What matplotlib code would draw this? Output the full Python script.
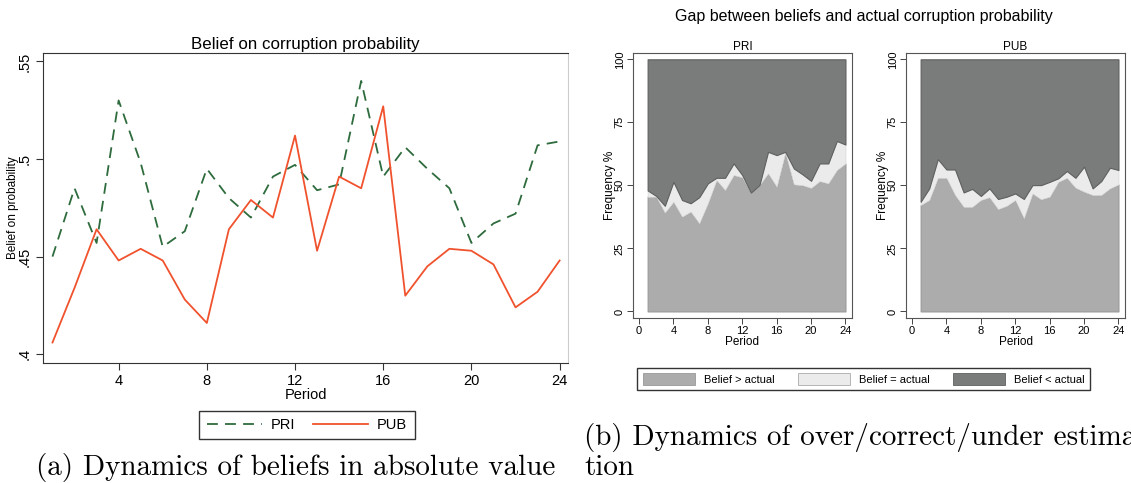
import numpy as np
import matplotlib
matplotlib.use("Agg")
import matplotlib.pyplot as plt
from matplotlib.patches import Patch

plt.rcParams['font.family'] = ['Liberation Sans', 'DejaVu Sans']

periods = list(range(1, 25))

# (a) mean belief on corruption probability
belief_pri = [0.450, 0.485, 0.457, 0.530, 0.498, 0.455, 0.463, 0.495, 0.480, 0.470, 0.491, 0.497,
              0.484, 0.487, 0.540, 0.491, 0.506, 0.495, 0.485, 0.457, 0.467, 0.472, 0.507, 0.509]
belief_pub = [0.406, 0.434, 0.464, 0.448, 0.454, 0.448, 0.428, 0.416, 0.464, 0.479, 0.470, 0.512,
              0.453, 0.491, 0.485, 0.527, 0.430, 0.445, 0.454, 0.453, 0.446, 0.424, 0.432, 0.448]

# (b) frequency % of over / correct estimation (rest = under)
pri_over = [45.5, 45.5, 39.2, 43.5, 37.6, 39.6, 35.0, 42.9, 52.1, 48.2, 54.1, 53.2,
            47.1, 50.1, 54.8, 49.5, 63.0, 50.4, 50.1, 49.0, 51.7, 50.8, 56.1, 58.7]
pri_equal = [2.5, 0.3, 2.7, 7.9, 6.6, 3.3, 10.3, 7.9, 0.9, 4.8, 4.6, 0.9,
             0.0, 0.0, 8.5, 12.5, 0.3, 6.3, 4.3, 2.8, 7.0, 7.9, 11.5, 7.5]
pub_over = [42.2, 44.2, 53.0, 53.0, 46.2, 41.5, 41.5, 44.2, 45.3, 40.6, 41.9, 44.2,
            37.0, 46.8, 44.5, 45.5, 51.4, 53.0, 49.1, 47.5, 46.2, 46.2, 48.8, 50.4]
pub_equal = [1.3, 4.6, 7.4, 3.3, 10.1, 5.7, 7.1, 1.6, 3.5, 4.0, 3.6, 2.6,
             7.6, 3.3, 5.6, 5.9, 1.4, 2.7, 3.9, 9.9, 2.6, 5.5, 8.2, 5.7]

W, H = 1131, 483
fig = plt.figure(figsize=(W / 100, H / 100), dpi=100)

def box(l, t, r, b):
    return [l / W, 1 - b / H, (r - l) / W, (b - t) / H]

green = '#2e6b3d'
red = '#f0522d'

# ---------- panel (a)
ax = fig.add_axes(box(43, 53, 568, 363))
ax.plot(periods, belief_pri, color=green, ls=(0, (6, 4)), lw=1.3, label='PRI')
ax.plot(periods, belief_pub, color=red, lw=1.3, label='PUB')
ax.set_xlim(0.57, 24.38)
ax.set_ylim(0.3955, 0.5543)
ax.set_xticks([4, 8, 12, 16, 20, 24])
ax.set_yticks([0.4, 0.45, 0.5, 0.55])
ax.set_yticklabels(['.4', '.45', '.5', '.55'], rotation=90, va='center')
ax.tick_params(labelsize=10.5, length=5, width=0.8, color='#333333', pad=3)
for s in ['left', 'bottom', 'top']:
    ax.spines[s].set_color('#333333')
ax.spines['right'].set_color('#cccccc')
ax.set_title('Belief on corruption probability', fontsize=12.2, pad=3)
ax.set_xlabel('Period', fontsize=10.5, labelpad=0)
ax.set_ylabel('Belief on probability', fontsize=8.5, labelpad=-1)

fig.legend(handles=ax.get_lines(), loc='center', ncol=2,
           bbox_to_anchor=(307 / W, 1 - 425 / H), fontsize=10.5,
           handlelength=3.8, columnspacing=1.2, handletextpad=0.6,
           fancybox=False, edgecolor='#333333', framealpha=1, borderpad=0.5)

# ---------- panel (b)
c_over, c_equal, c_under = '#acacac', '#ebebeb', '#7a7c7b'

def area_panel(rect, over, equal, title):
    a = fig.add_axes(rect)
    over = np.array(over)
    top = over + np.array(equal)
    a.fill_between(periods, 0, over, color=c_over, ec='#9a9a9a', lw=0.8)
    a.fill_between(periods, over, top, color=c_equal, ec='#d8d8d8', lw=0.5)
    a.fill_between(periods, top, 100, color=c_under, ec='#5e605f', lw=0.8)
    a.set_xlim(-0.7, 24.76)
    a.set_ylim(-2.6, 102.5)
    a.set_xticks(range(0, 25, 4))
    a.set_yticks([0, 25, 50, 75, 100])
    a.set_yticklabels(['0', '25', '50', '75', '100'], rotation=90, va='center')
    a.tick_params(labelsize=8, length=4, width=0.7, color='#444444', pad=2)
    for s in a.spines.values():
        s.set_color('#555555')
        s.set_linewidth(0.8)
    a.set_title(title, fontsize=8.5, pad=1)
    a.set_xlabel('Period', fontsize=8.5, labelpad=0)
    a.set_ylabel('Frequency %', fontsize=8.5, labelpad=-1)
    return a

area_panel(box(633, 53, 852, 318), pri_over, pri_equal, 'PRI')
area_panel(box(906, 53, 1125, 318), pub_over, pub_equal, 'PUB')

fig.text(864 / W, 1 - 16 / H, 'Gap between beliefs and actual corruption probability',
         ha='center', va='center', fontsize=11.5)

patches = [Patch(fc=c_over, ec='#999999', lw=0.6, label='Belief > actual'),
           Patch(fc=c_equal, ec='#aaaaaa', lw=0.6, label='Belief = actual'),
           Patch(fc=c_under, ec='#5e605f', lw=0.6, label='Belief < actual')]
fig.legend(handles=patches, loc='center', ncol=3,
           bbox_to_anchor=(863.5 / W, 1 - 379 / H), fontsize=8,
           handlelength=4.7, handleheight=1.2, columnspacing=2.1, handletextpad=0.8,
           fancybox=False, edgecolor='#333333', framealpha=1, borderpad=0.5)

# ---------- captions
fig.text(36 / W, 1 - 468 / H, '(a) Dynamics of beliefs in absolute value',
         family='cmr10', fontsize=21, ha='left', va='center')
fig.text(584 / W, 1 - 437 / H, '(b) Dynamics of over/correct/under estima-',
         family='cmr10', fontsize=21, ha='left', va='center')
fig.text(584 / W, 1 - 468 / H, 'tion',
         family='cmr10', fontsize=21, ha='left', va='center')

fig.savefig('out.png', dpi=100)
